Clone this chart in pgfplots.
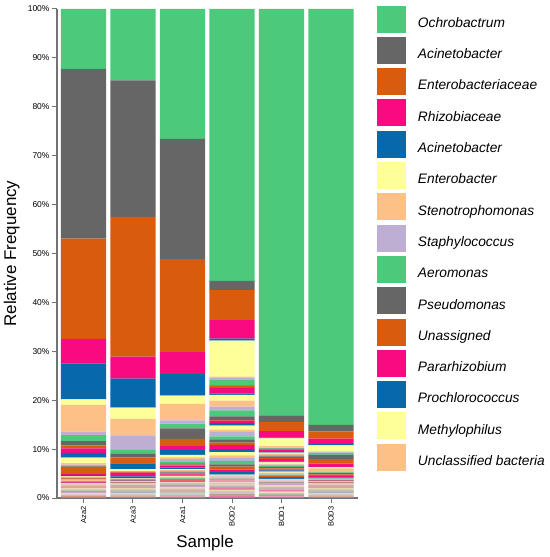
\documentclass[border=0pt]{standalone}
\usepackage{fontspec}
\setmainfont{Liberation Sans}
\usepackage{pgfplots}
\pgfplotsset{compat=1.18}
\definecolor{cG}{RGB}{76,201,122}
\definecolor{cK}{RGB}{102,102,102}
\definecolor{cO}{RGB}{217,92,14}
\definecolor{cP}{RGB}{250,10,128}
\definecolor{cB}{RGB}{8,104,172}
\definecolor{cY}{RGB}{255,255,153}
\definecolor{cE}{RGB}{253,192,134}
\definecolor{cL}{RGB}{190,174,212}
\definecolor{tb}{RGB}{222,196,186}
\colorlet{tG}{cG!40!tb}
\colorlet{tK}{cK!40!tb}
\colorlet{tO}{cO!40!tb}
\colorlet{tP}{cP!40!tb}
\colorlet{tB}{cB!40!tb}
\colorlet{tY}{cY!40!tb}
\colorlet{tE}{cE!40!tb}
\colorlet{tL}{cL!40!tb}
\pgfplotsset{sq/.style={legend image code/.code={\fill[##1] (0bp,-9.5bp) rectangle (29bp,17.5bp);}}}
% named taxon: colour, Aza2, Aza3, Aza1, BOD2, BOD1, BOD3, legend
\newcommand\tx[8]{\addplot[fill=#1,draw=none,sq] coordinates {(0,#2) (1,#3) (2,#4) (3,#5) (4,#6) (5,#7)};\addlegendentry{#8}}
% unnamed taxon
\newcommand\tf[7]{\addplot[fill=#1,draw=none,forget plot] coordinates {(0,#2) (1,#3) (2,#4) (3,#5) (4,#6) (5,#7)};}
\begin{document}
\begin{tikzpicture}
\useasboundingbox (0,0) rectangle (550bp,557bp);
\begin{axis}[
  at={(57bp,59bp)}, anchor=south west,
  scale only axis, width=301bp, height=489bp,
  ybar stacked, bar width=0.91,
  xmin=-0.535, xmax=5.545, ymin=0, ymax=100,
  axis lines*=left,
  axis line style={draw=black!55, line width=1.3bp, -},
  tick style={draw=black!55, line width=1bp},
  tick align=outside, major tick length=5bp,
  ytick={0,10,...,100},
  yticklabels={0\%,10\%,20\%,30\%,40\%,50\%,60\%,70\%,80\%,90\%,100\%},
  xtick={0,...,5},
  xticklabels={Aza2,Aza3,Aza1,BOD2,BOD1,BOD3},
  yticklabel style={font=\fontsize{8.5}{9}\selectfont, xshift=1bp},
  xticklabel style={font=\fontsize{7.5}{8}\selectfont, rotate=90, anchor=east},
  xlabel={Sample}, ylabel={Relative Frequency},
  label style={font=\fontsize{17}{20}\selectfont},
  xlabel style={at={(axis description cs:0.492,-0.092)}, anchor=center},
  ylabel style={at={(axis description cs:-0.15,0.5)}, anchor=center},
  reverse legend,
  legend cell align=left,
  legend style={at={(axis description cs:1.063,1.007)}, anchor=north west,
    draw=none, fill=none, inner sep=0pt, outer sep=0pt, row sep=4.3bp,
    font=\fontsize{13.8}{15}\selectfont\itshape,
    nodes={inner sep=0pt},
    /tikz/every odd column/.append style={column sep=12bp}},
]
% tail of rare taxa (61 -> 38)
\tf{tB}{0.10}{0.15}{0.125}{0.15}{0.125}{0.15}
\tf{tP}{0.15}{0.10}{0.15}{0.25}{0.2}{0.1}
\tf{tO}{0.15}{0.10}{0.15}{0.25}{0.125}{0.1}
\tf{tK}{0.10}{0.15}{0.125}{0.15}{0.2}{0.15}
\tf{tG}{0.10}{0.15}{0.125}{0.15}{0.125}{0.15}
\tf{tL}{0.15}{0.10}{0.15}{0.25}{0.2}{0.1}
\tf{tE}{0.15}{0.10}{0.15}{0.25}{0.125}{0.1}
\tf{tY}{0.10}{0.15}{0.125}{0.15}{0.2}{0.15}
\tf{tB}{0.10}{0.15}{0.125}{0.15}{0.125}{0.15}
\tf{tP}{0.15}{0.10}{0.15}{0.25}{0.2}{0.1}
\tf{tO}{0.15}{0.10}{0.15}{0.25}{0.125}{0.1}
\tf{tK}{0.10}{0.15}{0.125}{0.15}{0.2}{0.15}
\tf{tG}{0.10}{0.15}{0.125}{0.15}{0.125}{0.15}
\tf{tL}{0.15}{0.10}{0.15}{0.25}{0.2}{0.1}
\tf{tE}{0.15}{0.10}{0.15}{0.25}{0.125}{0.1}
\tf{tY}{0.10}{0.15}{0.125}{0.15}{0.2}{0.15}
\tf{tB}{0.10}{0.15}{0.125}{0.15}{0.125}{0.15}
\tf{tP}{0.15}{0.10}{0.15}{0.25}{0.2}{0.1}
\tf{tO}{0.15}{0.10}{0.15}{0.25}{0.125}{0.1}
\tf{tK}{0.10}{0.15}{0.125}{0.15}{0.2}{0.15}
\tf{tG}{0.10}{0.15}{0.125}{0.15}{0.125}{0.15}
\tf{tL}{0.15}{0.10}{0.15}{0.25}{0.2}{0.1}
\tf{tE}{0.15}{0.10}{0.15}{0.25}{0.125}{0.1}
\tf{tY}{0.10}{0.15}{0.125}{0.15}{0.2}{0.15}
% minor taxa (37 -> 16)
\tf{cB}{0.1}{0.05}{0.1}{0.5}{0.2}{0.05}
\tf{cP}{0.1}{0.05}{0.15}{0.5}{0.15}{0.05}
\tf{cO}{0.05}{0.05}{0.2}{0.6}{0.2}{0.05}
\tf{cK}{0.1}{0.05}{0.15}{0.5}{0.15}{0.05}
\tf{cG}{0.1}{0.05}{0.1}{0.7}{0.2}{0.05}
\tf{cL}{0.05}{0.1}{0.2}{0.6}{0.25}{0.05}
\tf{cE}{0.15}{0.05}{0.15}{0.5}{0.15}{0.05}
\tf{cY}{0.1}{0.05}{0.2}{0.7}{0.2}{0.05}
\tf{cB}{0.05}{0.1}{0.1}{0.6}{0.25}{0.1}
\tf{cP}{0.1}{0.05}{0.2}{0.8}{0.2}{0.05}
\tf{cO}{0.1}{0.05}{0.15}{0.5}{0.2}{0.05}
\tf{cK}{0.05}{0.1}{0.25}{0.7}{0.3}{0.05}
\tf{cG}{0.1}{0.05}{0.1}{0.6}{0.2}{0.1}
\tf{cL}{0.15}{0.05}{0.2}{0.9}{0.25}{0.05}
\tf{cE}{0.05}{0.1}{0.15}{0.5}{0.2}{0.05}
\tf{cY}{0.1}{0.05}{0.2}{0.8}{0.3}{0.1}
\tf{cB}{0.3}{0.4}{0.3}{0.5}{0.2}{0.2}
\tf{cP}{0.2}{0.8}{0.4}{0.5}{0.5}{0.3}
\tf{cO}{1.4}{0.1}{0.2}{0.1}{0.2}{0.4}
\tf{cK}{0.1}{0.05}{0.3}{0.8}{0.3}{0.3}
\tf{cG}{0.1}{0.05}{0.4}{1.2}{0.1}{0.1}
\tf{cL}{0.3}{0.05}{0.5}{0.8}{0.2}{0.2}
% named taxa (15 -> 1)
\tx{cE}{0.3}{0.05}{0.3}{1.2}{0.3}{0.6}{Unclassified bacteria}
\tx{cY}{1.1}{0.4}{0.5}{1.2}{0.2}{0.2}{Methylophilus}
\tx{cB}{1.0}{1.1}{1.0}{0.3}{0.1}{0.1}{Prochlorococcus}
\tx{cP}{0.9}{0.1}{0.8}{1.1}{0.5}{0.7}{Pararhizobium}
\tx{cO}{0.6}{1.2}{1.5}{0.5}{0.1}{0.9}{Unassigned}
\tx{cK}{0.9}{0.7}{2.15}{0.1}{0.1}{0.9}{Pseudomonas}
\tx{cG}{1.2}{0.85}{0.95}{1.0}{0.1}{0.4}{Aeromonas}
\tx{cL}{0.7}{2.95}{0.65}{0.4}{0.1}{0.1}{Staphylococcus}
\tx{cE}{5.5}{3.4}{3.4}{0.3}{0.3}{0.2}{Stenotrophomonas}
\tx{cY}{1.1}{2.3}{1.7}{7.4}{1.6}{1.2}{Enterobacter}
\tx{cB}{7.4}{5.9}{4.4}{0.4}{0.2}{0.3}{Acinetobacter}
\tx{cP}{5.0}{4.5}{4.5}{3.8}{1.3}{1.1}{Rhizobiaceae}
\tx{cO}{20.5}{28.6}{19.0}{6.1}{1.8}{1.5}{Enterobacteriaceae}
\tx{cK}{34.7}{27.9}{24.6}{1.9}{1.4}{1.3}{Acinetobacter}
\tx{cG}{12.25}{14.6}{26.55}{55.6}{83.1}{85.05}{Ochrobactrum}
\end{axis}
\end{tikzpicture}
\end{document}
